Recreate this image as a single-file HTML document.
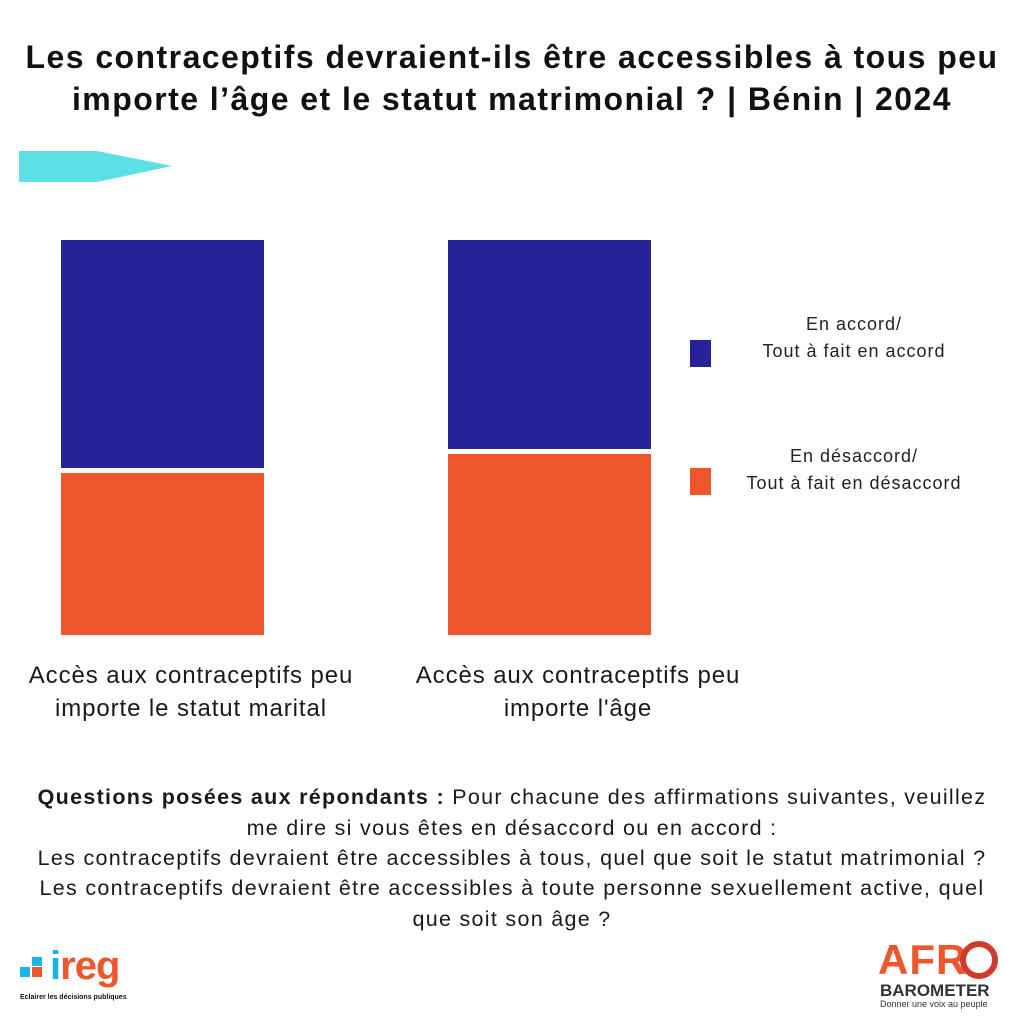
<!DOCTYPE html>
<html><head><meta charset="utf-8"><style>
body{margin:0;width:1024px;height:1024px;background:#fff;position:relative;overflow:hidden;font-family:"Liberation Sans",sans-serif;color:#111}
.c{position:absolute;left:0;width:1024px;text-align:center;white-space:nowrap}
.a{position:absolute;white-space:nowrap}
.t{font-weight:bold;font-size:32px;letter-spacing:1.45px}
.q{font-size:21.5px;color:#1a1a1a;letter-spacing:1.3px}
.lab{font-size:24px;color:#1a1a1a;text-align:center;width:400px;line-height:33px;letter-spacing:0.9px}
.leg{font-size:18px;color:#222;text-align:center;width:260px;line-height:27px;letter-spacing:1px}
.b{position:absolute;background:#26239a}.o{position:absolute;background:#f0562b}
</style></head><body>
<div class="c t" style="top:39px">Les contraceptifs devraient-ils être accessibles à tous peu</div>
<div class="c t" style="top:81px">importe l’âge et le statut matrimonial ? | Bénin | 2024</div>
<svg class="a" style="left:0;top:140px" width="200" height="50"><polygon points="19,11 97,11 172,26 97,42 19,42" fill="#5ce0e6"/></svg>
<div class="b" style="left:61px;top:240px;width:203px;height:228px"></div>
<div class="o" style="left:61px;top:473px;width:203px;height:162px"></div>
<div class="b" style="left:448px;top:240px;width:203px;height:209px"></div>
<div class="o" style="left:448px;top:454px;width:203px;height:181px"></div>
<div class="b" style="left:690px;top:340px;width:21px;height:27px"></div>
<div class="o" style="left:690px;top:468px;width:21px;height:27px"></div>
<div class="a leg" style="left:724px;top:311px">En accord/<br>Tout à fait en accord</div>
<div class="a leg" style="left:724px;top:443px">En désaccord/<br>Tout à fait en désaccord</div>
<div class="a lab" style="left:-9px;top:659px">Accès aux contraceptifs peu<br>importe le statut marital</div>
<div class="a lab" style="left:378px;top:659px">Accès aux contraceptifs peu<br>importe l'âge</div>
<div class="c q" style="top:785px"><b>Questions posées aux répondants :</b> Pour chacune des affirmations suivantes, veuillez</div>
<div class="c q" style="top:816px">me dire si vous êtes en désaccord ou en accord :</div>
<div class="c q" style="top:846px">Les contraceptifs devraient être accessibles à tous, quel que soit le statut matrimonial ?</div>
<div class="c q" style="top:876px">Les contraceptifs devraient être accessibles à toute personne sexuellement active, quel</div>
<div class="c q" style="top:907px">que soit son âge ?</div>
<div class="a" style="left:20px;top:967px;width:10px;height:10px;background:#1ab4ea"></div>
<div class="a" style="left:32px;top:967px;width:10px;height:10px;background:#f0562b"></div>
<div class="a" style="left:32px;top:957px;width:10px;height:9px;background:#1ab4ea"></div>
<div class="a" style="left:50px;top:944px;font-size:40px;font-weight:bold;color:#1ab4ea;letter-spacing:-1px">i<span style="color:#f0562b">reg</span></div>
<div class="a" style="left:20px;top:994px;font-size:7px;font-weight:bold">Eclairer les décisions publiques</div>
<div class="a" style="left:878px;top:936px;font-size:42px;font-weight:bold;color:#f0562b;letter-spacing:1px">AFR</div>
<div class="a" style="left:960px;top:941px;width:26px;height:26px;border:6px solid #d03a2a;border-radius:50%"></div>
<div class="a" style="left:880px;top:981px;font-size:17px;font-weight:bold;color:#333">BAROMETER</div>
<div class="a" style="left:880px;top:999px;font-size:9px;color:#333">Donner une voix au peuple</div>
</body></html>
